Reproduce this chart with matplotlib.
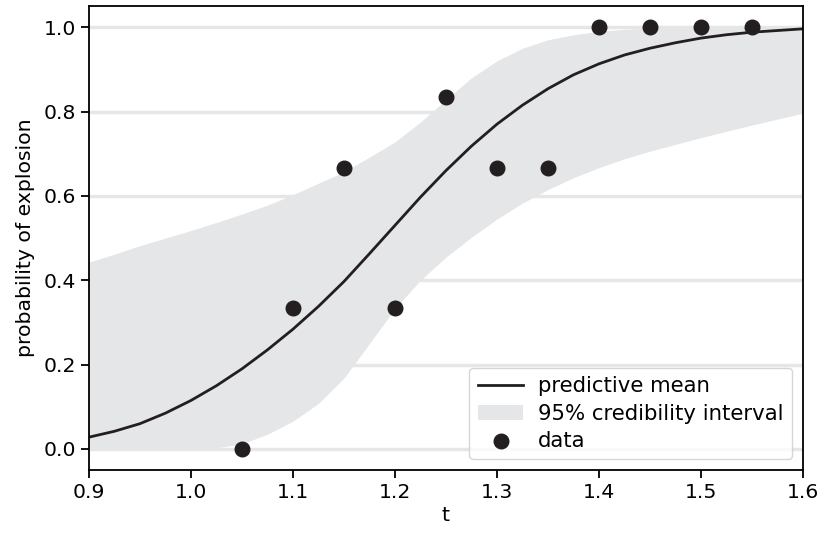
import numpy as np
import matplotlib
matplotlib.use("Agg")
import matplotlib.pyplot as plt

# observed data
t_data = [1.05, 1.10, 1.15, 1.20, 1.25, 1.30, 1.35, 1.40, 1.45, 1.50, 1.55]
p_data = [0.0, 1/3, 2/3, 1/3, 5/6, 2/3, 2/3, 1.0, 1.0, 1.0, 1.0]

# model curve, every 0.025
t_grid = [0.900, 0.925, 0.950, 0.975, 1.000, 1.025, 1.050, 1.075, 1.100, 1.125,
          1.150, 1.175, 1.200, 1.225, 1.250, 1.275, 1.300, 1.325, 1.350, 1.375,
          1.400, 1.425, 1.450, 1.475, 1.500, 1.525, 1.550, 1.575, 1.600]
p_mean = [0.028, 0.042, 0.060, 0.085, 0.115, 0.150, 0.190, 0.235, 0.284, 0.338,
          0.397, 0.463, 0.530, 0.597, 0.660, 0.718, 0.770, 0.815, 0.854, 0.887,
          0.913, 0.934, 0.950, 0.963, 0.974, 0.982, 0.988, 0.992, 0.996]
p_upper = [0.443, 0.462, 0.482, 0.500, 0.518, 0.537, 0.557, 0.578, 0.603, 0.630,
           0.657, 0.692, 0.728, 0.775, 0.828, 0.880, 0.920, 0.950, 0.970, 0.982,
           0.990, 0.995, 0.998, 0.999, 1.000, 1.000, 1.000, 1.000, 1.000]
p_lower = [0.000, 0.000, 0.000, 0.000, 0.000, 0.003, 0.012, 0.035, 0.066, 0.108,
           0.168, 0.250, 0.333, 0.400, 0.455, 0.502, 0.545, 0.583, 0.615, 0.643,
           0.667, 0.688, 0.706, 0.722, 0.738, 0.753, 0.768, 0.782, 0.796]

plt.rcParams['font.family'] = ['DejaVu Sans']
plt.rcParams['font.size'] = 14.7

fig = plt.figure(figsize=(8.2, 5.36), dpi=100)
ax = fig.add_axes([0.1085, 0.123, 0.8707, 0.8657])

for yv in [0.0, 0.2, 0.4, 0.6, 0.8, 1.0]:
    ax.axhline(yv, color='#e6e6e6', lw=2.5, zorder=0)

band = ax.fill_between(t_grid, p_lower, p_upper, color='#e5e6e8', lw=0,
                       label='95% credibility interval', zorder=1)
line, = ax.plot(t_grid, p_mean, color='#231f20', lw=2, label='predictive mean', zorder=2)
pts = ax.scatter(t_data, p_data, s=110, color='#231f20', label='data', zorder=3)

ax.set_xlim(0.9, 1.6)
ax.set_ylim(-0.05, 1.05)
ax.set_xticks([0.9, 1.0, 1.1, 1.2, 1.3, 1.4, 1.5, 1.6])
ax.set_yticks([0.0, 0.2, 0.4, 0.6, 0.8, 1.0])
ax.set_xlabel('t', labelpad=3)
ax.set_ylabel('probability of explosion', labelpad=6)
for s in ax.spines.values():
    s.set_linewidth(1.3)
ax.tick_params(length=6, width=1.3)

ax.legend(handles=[line, band, pts], loc='lower right', fontsize=15.3,
          handlelength=2.15, handletextpad=0.7, borderaxespad=0.5,
          labelspacing=0.35)

fig.savefig('out.png', dpi=100)
